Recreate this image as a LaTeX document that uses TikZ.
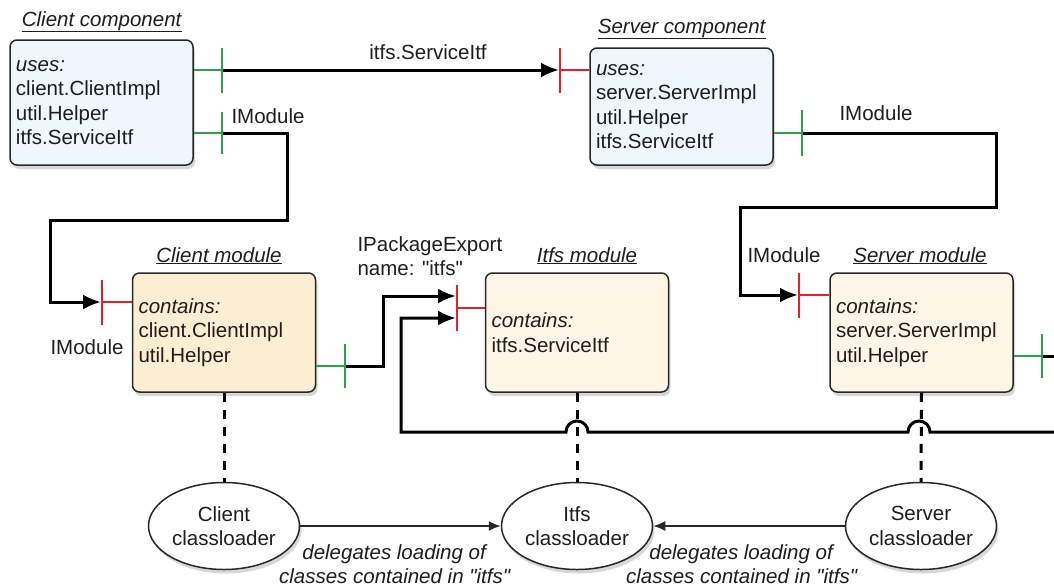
\documentclass[tikz,border=0pt]{standalone}
\usepackage{fontspec}
\setmainfont{Liberation Sans}
\usetikzlibrary{shapes.geometric,arrows.meta,shadows}
\definecolor{compfill}{RGB}{238,247,252}
\definecolor{modfill}{RGB}{253,246,230}
\definecolor{cmodfill}{RGB}{252,238,210}
\definecolor{stubgreen}{RGB}{40,165,75}
\definecolor{stubred}{RGB}{232,30,40}
\definecolor{txt}{RGB}{30,30,30}
\definecolor{edgecol}{RGB}{40,40,40}
\newcommand\qq{\textquotedbl}
\begin{document}
\begin{tikzpicture}[x=1pt,y=1pt,
  every node/.style={font=\fontsize{20.5}{24.5}\selectfont, text=txt},
  box/.style={draw=edgecol, line width=1.5pt, rounded corners=7pt, align=left,
    text width=171pt, inner xsep=6pt, inner ysep=0pt,
    drop shadow={shadow xshift=2pt, shadow yshift=-4pt, opacity=0.3}},
  ell/.style={ellipse, draw=edgecol, line width=1.5pt, fill=white, minimum width=151pt,
    minimum height=87pt, inner sep=0pt, align=center,
    drop shadow={shadow xshift=2pt, shadow yshift=-4pt, opacity=0.3}},
  title/.style={anchor=base},
  gstub/.style={draw=stubgreen, line width=2.2pt},
  rstub/.style={draw=stubred, line width=2.2pt},
  conn/.style={draw=black, line width=3pt},
  tip/.style={-{Latex[length=18pt,width=15pt]}},
  dashline/.style={draw=black, line width=3pt, dash pattern=on 9pt off 8pt},
  thinarrow/.style={draw=edgecol, line width=1.7pt, -{Latex[length=12pt,width=10pt]}}
]
\useasboundingbox[fill=white] (0,0) rectangle (1054,-587);

% boxes
\node[box, fill=compfill, minimum height=125pt] (cc) at (101.5,-102.5)
  {\textit{uses:}\\client.ClientImpl\\util.Helper\\itfs.ServiceItf};
\node[box, fill=compfill, minimum height=117pt] (sc) at (681.5,-106.5)
  {\textit{uses:}\\server.ServerImpl\\util.Helper\\itfs.ServiceItf};
\node[box, fill=cmodfill, minimum height=119pt] (cm) at (224,-332.5)
  {\textit{contains:}\\client.ClientImpl\\util.Helper};
\node[box, fill=modfill, minimum height=119pt] (im) at (577,-332.5)
  {\textit{contains:}\\itfs.ServiceItf};
\node[box, fill=modfill, minimum height=119pt] (sm) at (921.5,-332.5)
  {\textit{contains:}\\server.ServerImpl\\util.Helper};

% titles
\node[title] (tcc) at (102,-26) {\underline{\textit{Client component}}};
\node[title] (tsc) at (682,-33) {\underline{\textit{Server component}}};
\node[title] (tcm) at (219,-262) {\underline{\textit{Client module}}};
\node[title] (tim) at (587,-262) {\underline{\textit{Itfs module}}};
\node[title] (tsm) at (920,-262) {\underline{\textit{Server module}}};

% classloaders
\node[ell] (cl) at (224,-526) {Client\\classloader};
\node[ell] (il) at (577,-526) {Itfs\\classloader};
\node[ell] (sl) at (921,-526) {Server\\classloader};

% stub coordinates
\coordinate (cc1) at (222,-70);
\coordinate (cc2) at (222,-133);
\coordinate (scin) at (560,-70);
\coordinate (scout) at (802,-133);
\coordinate (cmin) at (102,-302);
\coordinate (cmout) at (345,-366);
\coordinate (imin) at (457,-308);
\coordinate (smin) at (799,-295);
\coordinate (smout) at (1042,-356);
\coordinate (redge) at (1054,-356);
\coordinate (bline) at (1054,-432);

% dashed links to classloaders
\draw[dashline] (cm.south) -- (cl.north);
\draw[dashline] (im.south) -- (il.north);
\draw[dashline] (sm.south) -- (sl.north);

% connectors
\draw[conn, tip] (cc1) -- ([xshift=-1pt]scin);
\draw[conn, tip] (cc2) -- (287,-133) -- (287,-220) -- (50,-220) -- (50,-302) -- ([xshift=-1pt]cmin);
\draw[conn, tip] (scout) -- (996,-133) -- (996,-207) -- (740,-207) -- (740,-295) -- ([xshift=-1pt]smin);
\draw[conn, tip] (cmout) -- (383,-366) -- (383,-296) -- (456,-296);
\draw[conn] (smout) -- (redge);
\draw[conn, tip] (bline) -- (930,-432) arc[start angle=0,end angle=180,radius=11]
  -- (588,-432) arc[start angle=0,end angle=180,radius=11]
  -- (401,-432) -- (401,-318) -- (456,-318);

% green stubs (provided interfaces)
\draw[gstub] (cc.east |- cc1) -- (cc1);
\draw[gstub] ([yshift=22.5pt]cc1) -- ([yshift=-22.5pt]cc1);
\draw[gstub] (cc.east |- cc2) -- (cc2);
\draw[gstub] ([yshift=21pt]cc2) -- ([yshift=-21pt]cc2);
\draw[gstub] (sc.east |- scout) -- (scout);
\draw[gstub] ([yshift=23pt]scout) -- ([yshift=-23pt]scout);
\draw[gstub] (cm.east |- cmout) -- (cmout);
\draw[gstub] ([yshift=22pt]cmout) -- ([yshift=-22pt]cmout);
\draw[gstub] (sm.east |- smout) -- (smout);
\draw[gstub] ([yshift=22pt]smout) -- ([yshift=-22pt]smout);

% red stubs (required interfaces)
\draw[rstub] (scin) -- (sc.west |- scin);
\draw[rstub] ([yshift=22.5pt]scin) -- ([yshift=-22.5pt]scin);
\draw[rstub] (cmin) -- (cm.west |- cmin);
\draw[rstub] ([yshift=22.5pt]cmin) -- ([yshift=-22.5pt]cmin);
\draw[rstub] (imin) -- (im.west |- imin);
\draw[rstub] ([yshift=23pt]imin) -- ([yshift=-23pt]imin);
\draw[rstub] (smin) -- (sm.west |- smin);
\draw[rstub] ([yshift=22.5pt]smin) -- ([yshift=-22.5pt]smin);

% classloader delegation
\draw[thinarrow] (cl.east) -- (il.west);
\draw[thinarrow] (sl.west) -- (il.east);

% labels
\node (l1) at (428,-52) {itfs.ServiceItf};
\node (l2) at (268,-116) {IModule};
\node (l3) at (876,-113) {IModule};
\node (l4) at (784,-255) {IModule};
\node (l5) at (87,-347) {IModule};
\node[align=left, anchor=west] (l6) at (354,-256) {IPackageExport\\name: \qq itfs\qq};
\node[align=center] (d1) at (395,-564) {\textit{delegates loading of}\\\textit{classes contained in \qq itfs\qq}};
\node[align=center] (d2) at (742,-564) {\textit{delegates loading of}\\\textit{classes contained in \qq itfs\qq}};
\end{tikzpicture}
\end{document}
